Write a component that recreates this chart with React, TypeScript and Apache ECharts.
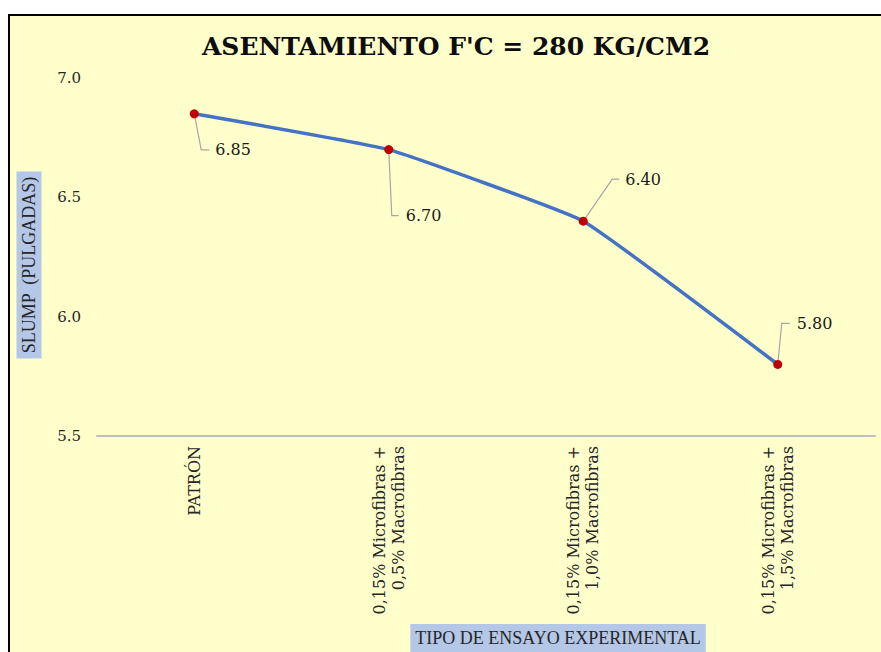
import React, { useEffect, useRef } from "react";
import * as echarts from "echarts";

const categories = [
  "PATRÓN",
  "0,15% Microfibras +\n0,5% Macrofibras",
  "0,15% Microfibras +\n1,0% Macrofibras",
  "0,15% Microfibras +\n1,5% Macrofibras",
];
const slumpValues = [6.85, 6.7, 6.4, 5.8];
const yTicks = { min: 5.5, max: 7.0, interval: 0.5 };
const chartTitle = "ASENTAMIENTO F'C = 280 KG/CM2";
const yAxisTitle = "SLUMP  (PULGADAS)";
const xAxisTitle = "TIPO DE ENSAYO EXPERIMENTAL";

// label leader-line offsets relative to each point (styling only)
const labelOffsets = [
  { cx: 7, cy: 36, ex: 15, tx: 21 },
  { cx: 3, cy: 66, ex: 10, tx: 17 },
  { cx: 29, cy: -42, ex: 36, tx: 42 },
  { cx: 4, cy: -41, ex: 12, tx: 19 },
];

export default function App() {
  const ref = useRef<HTMLDivElement>(null);
  useEffect(() => {
    if (!ref.current) return;
    const chart = echarts.init(ref.current, null, { renderer: "svg" });
    chart.setOption({
      animation: false,
      backgroundColor: "#FFFFCC",
      title: {
        text: chartTitle,
        left: 441,
        textAlign: "center",
        top: 13,
        textStyle: {
          fontFamily: "DejaVu Serif",
          fontWeight: "bold",
          fontSize: 25,
          color: "#0D0D0D",
        },
      },
      grid: { left: 87, right: 6, top: 62, bottom: 216, containLabel: false },
      xAxis: {
        type: "category",
        data: categories,
        boundaryGap: true,
        axisLine: { show: true, lineStyle: { color: "#BFBFBF", width: 2 } },
        axisTick: { show: false },
        axisLabel: {
          rotate: 90,
          margin: 10,
          fontFamily: "DejaVu Serif",
          fontSize: 16,
          lineHeight: 19,
          color: "#262626",
          interval: 0,
        },
        splitLine: { show: false },
      },
      yAxis: {
        type: "value",
        min: yTicks.min,
        max: yTicks.max,
        interval: yTicks.interval,
        axisLine: { show: false },
        axisTick: { show: false },
        splitLine: { show: false },
        axisLabel: {
          margin: 16,
          fontFamily: "DejaVu Serif",
          fontSize: 15,
          color: "#262626",
          formatter: (v: number) => v.toFixed(1),
        },
      },
      graphic: [
        {
          type: "text",
          x: 19,
          y: 249,
          rotation: Math.PI / 2,
          style: {
            text: yAxisTitle,
            fontFamily: "Liberation Serif",
            fontSize: 18,
            fill: "#262626",
            align: "center",
            verticalAlign: "middle",
            backgroundColor: "#B4C7E7",
            padding: [4, 5, 3, 5],
          },
        },
        {
          type: "text",
          x: 548,
          y: 608,
          style: {
            text: xAxisTitle,
            fontFamily: "Liberation Serif",
            fontSize: 18,
            fill: "#262626",
            align: "center",
            verticalAlign: "top",
            backgroundColor: "#B4C7E7",
            padding: [5, 5, 12, 5],
          },
        },
      ],
      series: [
        {
          type: "custom",
          z: 1,
          data: slumpValues.map((v, i) => [i, v]),
          renderItem: (params: any, api: any) => {
            const p = api.coord([api.value(0), api.value(1)]);
            const o = labelOffsets[params.dataIndex];
            return {
              type: "group",
              children: [
                {
                  type: "polyline",
                  shape: {
                    points: [
                      [p[0], p[1]],
                      [p[0] + o.cx, p[1] + o.cy],
                      [p[0] + o.ex, p[1] + o.cy],
                    ],
                  },
                  style: { stroke: "#A6A6A6", lineWidth: 1.2, fill: null },
                },
                {
                  type: "text",
                  x: p[0] + o.tx,
                  y: p[1] + o.cy,
                  style: {
                    text: Number(api.value(1)).toFixed(2),
                    fontFamily: "DejaVu Serif",
                    fontSize: 16,
                    fill: "#1A1A1A",
                    align: "left",
                    verticalAlign: "middle",
                  },
                },
              ],
            };
          },
        },
        {
          type: "line",
          z: 3,
          data: slumpValues,
          smooth: 0.1,
          symbol: "circle",
          symbolSize: 9,
          lineStyle: { color: "#4472C4", width: 3.5 },
          itemStyle: { color: "#C00000" },
          label: { show: false },
        },
      ],
    });
    return () => chart.dispose();
  }, []);
  return (
    <div
      style={{
        position: "fixed",
        left: 8,
        top: 14,
        width: 873,
        height: 638,
        boxSizing: "border-box",
        borderLeft: "2px solid #000",
        borderTop: "2px solid #000",
        background: "#FFFFCC",
      }}
    >
      <div ref={ref} style={{ width: 871, height: 636 }} />
    </div>
  );
}
